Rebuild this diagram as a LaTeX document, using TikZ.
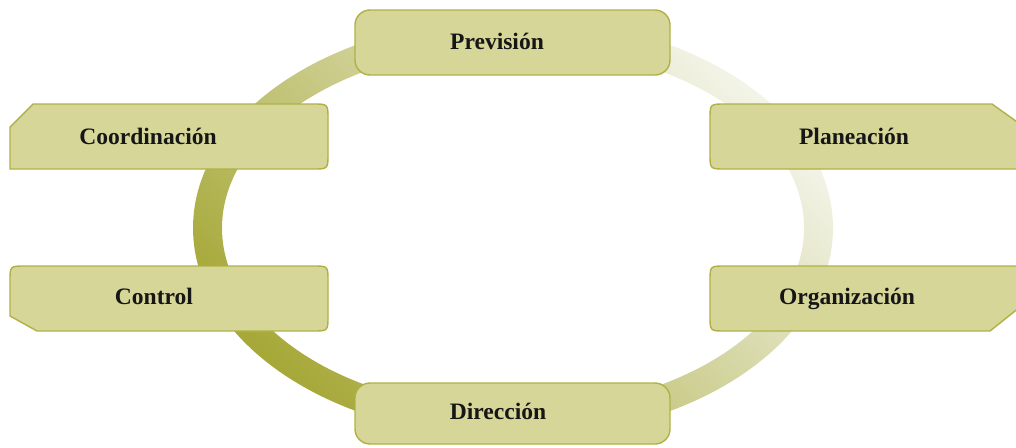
\documentclass[tikz,border=0pt]{standalone}
\usepackage{fontspec}
\setmainfont{Liberation Serif}
\usetikzlibrary{positioning}
\definecolor{boxFill}{RGB}{214,214,153}
\definecolor{boxEdge}{RGB}{176,176,68}
\definecolor{ringDark}{RGB}{166,168,56}
\definecolor{ringMid}{RGB}{208,209,148}
\definecolor{ringLight}{RGB}{243,244,232}
\definecolor{labelInk}{RGB}{22,22,22}

\tikzset{
  stagebox/.style={fill=boxFill, draw=boxEdge, line width=0.8pt},
  stagetext/.style={font=\fontsize{13.4}{15}\selectfont\bfseries, text=labelInk, inner sep=0pt,
                    text height=0.75em, text depth=0.15em},
}

\begin{document}
\begin{tikzpicture}[x=0.02cm, y=-0.02cm]
        \useasboundingbox (0,0) rectangle (1016,447);
        % ring behind the stages
        \shade[even odd rule, top color=ringLight, middle color=ringMid, bottom color=ringDark,
               shading angle=-45]
          (513,228) ellipse (320 and 210) (513,228) ellipse (291 and 182);
        % top and bottom
        \draw[stagebox, rounded corners=0.3cm] (355,10) rectangle (670,75);
        \node[stagetext] (prevision) at (497,44) {Previsión};
        \draw[stagebox, rounded corners=0.3cm] (355,383) rectangle (670,444);
        \node[stagetext] (direccion) at (498,414) {Dirección};
        % left side
        \draw[stagebox] (10,127) -- (33,104) -- (313,104) .. controls (328,104) .. (328,119)
          -- (328,154) .. controls (328,169) .. (313,169) -- (10,169) -- cycle;
        \node[stagetext] (coordinacion) at (148,139) {Coordinación};
        \draw[stagebox] (10,281) .. controls (10,266) .. (25,266) -- (313,266)
          .. controls (328,266) .. (328,281) -- (328,316) .. controls (328,331) .. (313,331)
          -- (37,331) -- (10,316) -- cycle;
        \node[stagetext] (control) at (154,299) {Control};
        % right side
        \draw[stagebox] (725,104) -- (992,104) -- (1020,124) -- (1020,169) -- (725,169)
          .. controls (710,169) .. (710,154) -- (710,119) .. controls (710,104) .. (725,104);
        \node[stagetext] (planeacion) at (854,139) {Planeación};
        \draw[stagebox] (725,266) -- (1020,266) -- (1020,307) -- (990,331) -- (725,331)
          .. controls (710,331) .. (710,316) -- (710,281) .. controls (710,266) .. (725,266);
        \node[stagetext] (organizacion) at (847,299) {Organización};
      \end{tikzpicture}
\end{document}
